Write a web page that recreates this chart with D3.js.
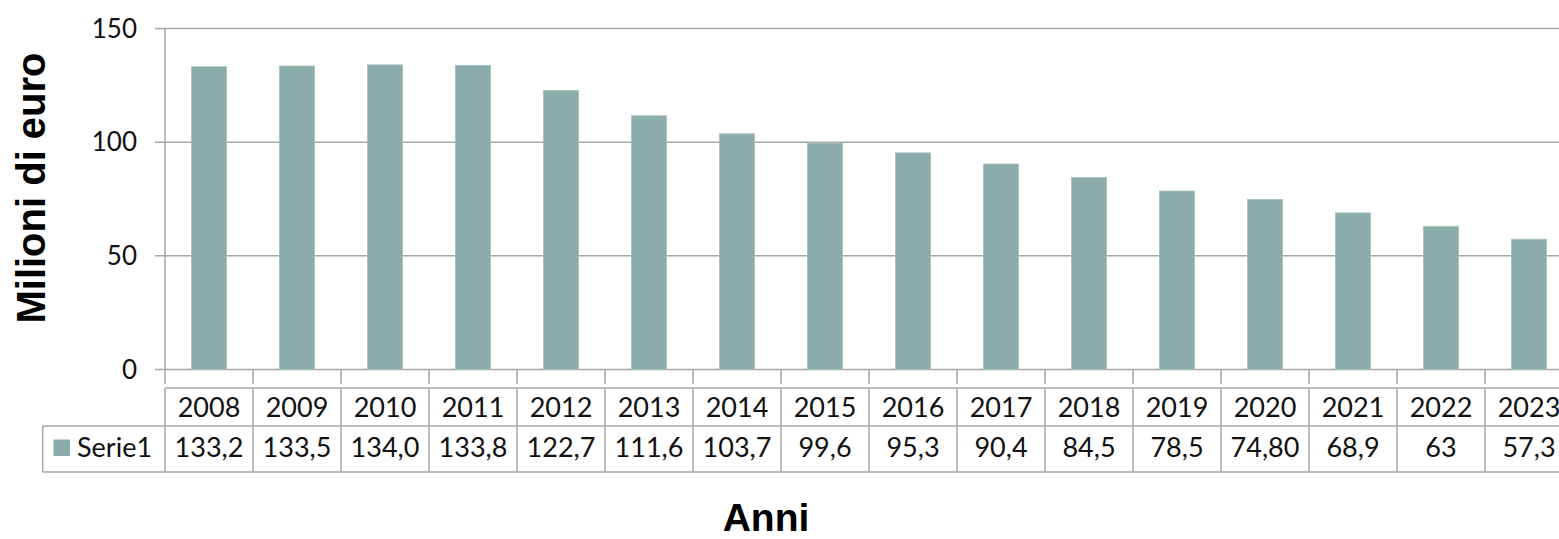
<!DOCTYPE html>
<html><head><meta charset="utf-8">
<script src="https://cdn.jsdelivr.net/npm/d3@7"></script>
<style>html,body{margin:0;padding:0;background:#fff;overflow:hidden}</style>
</head><body>
<svg id="c" width="1559" height="539"></svg>
<script>
const years = ["2008","2009","2010","2011","2012","2013","2014","2015","2016","2017","2018","2019","2020","2021","2022","2023"];
const values = [133.2,133.5,134.0,133.8,122.7,111.6,103.7,99.6,95.3,90.4,84.5,78.5,74.8,68.9,63,57.3];
const valueLabels = ["133,2","133,5","134,0","133,8","122,7","111,6","103,7","99,6","95,3","90,4","84,5","78,5","74,80","68,9","63","57,3"];
const yTicks = [0,50,100,150];
const seriesName = "Serie1";
const yTitle = "Milioni di euro";
const xTitle = "Anni";

(function(){
const svg = d3.select("#c");
const plotL = 165, plotT = 28.5, plotB = 369.5;
const bw = 88;
const x = d3.scaleBand().domain(years).range([plotL, plotL + bw*years.length]);
const y = d3.scaleLinear().domain([0,150]).range([plotB, plotT]);
const grid = "#a6a6a6";
const font = "Lato, 'Open Sans', sans-serif";

svg.append("g").selectAll("line").data(yTicks).join("line")
  .attr("x1", plotL-10).attr("x2", 1559)
  .attr("y1", d=>y(d)).attr("y2", d=>y(d))
  .attr("stroke", grid).attr("stroke-width", 1.5);

svg.append("g").selectAll("text").data(yTicks).join("text")
  .attr("x", 137).attr("y", d=>y(d)).attr("dy","0.35em")
  .attr("text-anchor","end").attr("font-family", font).attr("font-size", 26)
  .attr("fill","#111").text(d=>d);

svg.append("line").attr("x1",plotL).attr("x2",plotL).attr("y1",plotT).attr("y2",384)
  .attr("stroke",grid).attr("stroke-width",1.5);

svg.append("g").selectAll("line").data(years.slice(1)).join("line")
  .attr("x1", d=>x(d)).attr("x2", d=>x(d)).attr("y1", plotB).attr("y2", 384)
  .attr("stroke",grid).attr("stroke-width",1.5);

const barW = x.bandwidth()*0.4;
svg.append("g").selectAll("rect").data(values).join("rect")
  .attr("x", (d,i)=>x(years[i]) + (x.bandwidth()-barW)/2)
  .attr("width", barW)
  .attr("y", d=>y(d)).attr("height", d=>y(0)-y(d))
  .attr("fill","#8aacab").attr("stroke","#a7c1c0").attr("stroke-width",0.8);

const r1 = 388, r2 = 426, r3 = 472, legL = 42.7;
const t = svg.append("g");
t.append("line").attr("x1",plotL).attr("x2",1559).attr("y1",r1).attr("y2",r1).attr("stroke",grid).attr("stroke-width",1.5);
t.append("line").attr("x1",legL).attr("x2",1559).attr("y1",r2).attr("y2",r2).attr("stroke",grid).attr("stroke-width",1.5);
t.append("line").attr("x1",legL).attr("x2",1559).attr("y1",r3).attr("y2",r3).attr("stroke",grid).attr("stroke-width",1.5);
t.append("line").attr("x1",legL).attr("x2",legL).attr("y1",r2).attr("y2",r3).attr("stroke",grid).attr("stroke-width",1.5);
t.selectAll("line.v").data(years).join("line").attr("class","v")
  .attr("x1", d=>x(d)).attr("x2", d=>x(d)).attr("y1", r1).attr("y2", r3)
  .attr("stroke",grid).attr("stroke-width",1.5);
t.selectAll("text.yr").data(years).join("text").attr("class","yr")
  .attr("x", d=>x(d)+x.bandwidth()/2).attr("y", 416.5)
  .attr("text-anchor","middle").attr("font-family",font).attr("font-size",27).attr("fill","#111")
  .text(d=>d);
t.selectAll("text.val").data(valueLabels).join("text").attr("class","val")
  .attr("x", (d,i)=>x(years[i])+x.bandwidth()/2).attr("y", 457)
  .attr("text-anchor","middle").attr("font-family",font).attr("font-size",27).attr("fill","#111")
  .text(d=>d);
t.append("rect").attr("x",53.5).attr("y",439.5).attr("width",16.5).attr("height",16.5).attr("fill","#8aacab");
t.append("text").attr("x",77).attr("y",457).attr("font-family",font).attr("font-size",27).attr("fill","#111").text(seriesName);

svg.append("text").attr("transform","translate(45,188) rotate(-90)")
  .attr("text-anchor","middle").attr("font-family","'Liberation Sans', Arial, sans-serif")
  .attr("font-weight","bold").attr("font-size",40).attr("fill","#000").text(yTitle);
svg.append("text").attr("x",766).attr("y",531)
  .attr("text-anchor","middle").attr("font-family","'Liberation Sans', Arial, sans-serif")
  .attr("font-weight","bold").attr("font-size",39).attr("fill","#000").text(xTitle);
})();
</script>
</body></html>
